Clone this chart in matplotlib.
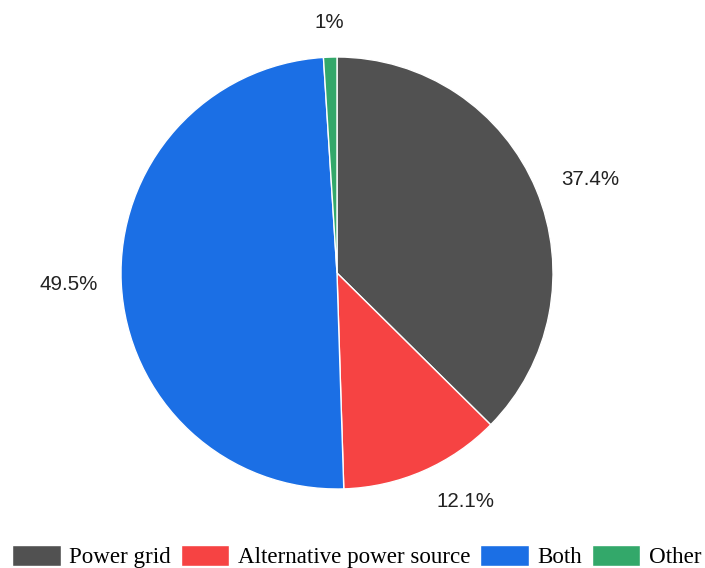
import numpy as np
import matplotlib.pyplot as plt

# share of households by electricity source
labels = ['Power grid', 'Alternative power source', 'Both', 'Other']
shares = [37.4, 12.1, 49.5, 1.0]
pct_text = ['37.4%', '12.1%', '49.5%', '1%']
colors = ['#515151', '#f64343', '#1b6fe5', '#33a86a']

fig = plt.figure(figsize=(7.05, 5.68), dpi=100)
ax = fig.add_axes([121 / 705, 79 / 568, 432 / 705, 432 / 568])

wedges, texts = ax.pie(shares, labels=pct_text, colors=colors,
                       startangle=90, counterclock=False,
                       labeldistance=1.13,
                       wedgeprops=dict(edgecolor='white', linewidth=1),
                       textprops=dict(fontsize=14.8, family='Liberation Sans',
                                      color='#222222'))

# push each percentage label out along its wedge's middle angle
label_r = [1.125, 1.155, 1.108, 1.162]
for w, t, r in zip(wedges, texts, label_r):
    mid = np.deg2rad((w.theta1 + w.theta2) / 2)
    t.set_position((r * np.cos(mid), r * np.sin(mid)))
texts[3].set_horizontalalignment('center')

ax.set_xlim(-1, 1)
ax.set_ylim(-1, 1)
ax.set_aspect('equal')

fig.legend(wedges, labels, loc='center', bbox_to_anchor=(0.506, 0.02),
           ncol=4, frameon=False, borderpad=0, borderaxespad=0,
           handlelength=2.1, handleheight=1.0, handletextpad=0.35,
           columnspacing=0.45,
           prop=dict(family='Liberation Serif', size=16.6))

fig.savefig('out.png', dpi=100)
